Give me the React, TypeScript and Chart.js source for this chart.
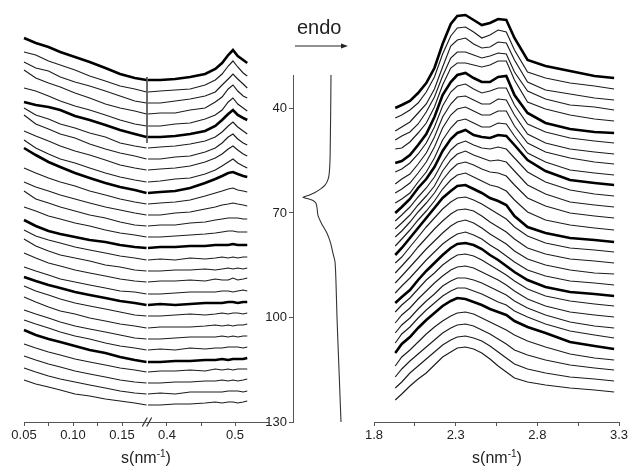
import React, { useEffect, useRef } from "react";
import { Chart, registerables } from "chart.js";
Chart.register(...registerables);

const FONT = 'Arial, "Liberation Sans", Helvetica, sans-serif';

// ---------------- data ----------------
// scattering vector grids (nm^-1)
const leftLowS = [0.05, 0.062, 0.075, 0.087, 0.102, 0.117, 0.133, 0.148, 0.163, 0.175];
const leftHighS = [0.372, 0.39, 0.412, 0.434, 0.456, 0.471, 0.481, 0.49, 0.497, 0.504, 0.512, 0.518];
const rightS = [1.93, 1.97, 2.02, 2.07, 2.12, 2.17, 2.22, 2.27, 2.31, 2.36, 2.41, 2.46, 2.51, 2.56, 2.61, 2.66, 2.74, 2.85, 3.0, 3.15, 3.27];

// stacked intensity level of each SAXS curve at the axis break (a.u.)
const leftLevel = [342, 330, 319, 308, 296, 285, 274, 263, 252, 240, 229, 218, 207, 196, 185, 174, 162, 151, 140, 128, 117, 106, 94, 83, 72, 60, 50, 39, 28, 17];

// SAXS low-s part, relative to the level at the break
const leftLowRel = [
  [42, 37, 33, 28, 23, 18, 12, 6, 2, 0],
  [40, 37, 31, 27, 22, 16, 11, 6, 3, 0],
  [41, 35, 32, 26, 21, 17, 12, 7, 2, 0],
  [44, 36, 31, 27, 21, 16, 10, 6, 3, 0],
  [38, 35, 30, 25, 20, 16, 11, 6, 2, 0],
  [35, 32, 30, 27, 21, 17, 12, 7, 3, 0],
  [40, 33, 29, 24, 20, 15, 11, 5, 2, 0],
  [44, 35, 30, 25, 21, 15, 10, 6, 3, 0],
  [39, 34, 29, 24, 19, 15, 10, 5, 2, 0],
  [42, 34, 28, 23, 19, 14, 9, 5, 2, 0],
  [45, 38, 31, 26, 20, 15, 10, 6, 3, 0],
  [36, 31, 26, 22, 18, 13, 9, 5, 2, 0],
  [33, 28, 24, 20, 16, 12, 8, 5, 2, 0],
  [35, 27, 23, 19, 15, 11, 8, 4, 1, 0],
  [30, 26, 21, 18, 14, 11, 7, 4, 2, 0],
  [28, 22, 17, 14, 11, 8, 6, 3, 1, 0],
  [30, 24, 20, 17, 13, 10, 7, 4, 2, 0],
  [32, 25, 20, 16, 13, 10, 6, 4, 1, 0],
  [29, 24, 19, 16, 12, 9, 6, 3, 1, 0],
  [27, 23, 19, 15, 12, 9, 6, 3, 2, 0],
  [28, 24, 20, 17, 13, 10, 7, 4, 2, 0],
  [30, 25, 21, 17, 13, 10, 7, 4, 1, 0],
  [31, 26, 21, 17, 14, 10, 7, 4, 2, 0],
  [29, 25, 21, 17, 13, 10, 7, 4, 1, 0],
  [30, 26, 22, 18, 14, 11, 7, 4, 2, 0],
  [32, 27, 23, 20, 16, 12, 9, 5, 2, 0],
  [28, 24, 20, 17, 13, 10, 7, 4, 2, 0],
  [27, 23, 19, 16, 12, 9, 6, 3, 1, 0],
  [26, 22, 18, 15, 12, 9, 6, 3, 1, 0],
  [25, 21, 18, 15, 11, 9, 6, 4, 2, 0],
];

// SAXS high-s part (long-period peak), relative to the level at the break
const leftHighRel = [
  [0, 0, 1, 3, 6, 11, 17, 25, 30, 24, 20, 17],
  [0, 1, 2, 3, 7, 12, 18, 26, 31, 25, 19, 16],
  [0, 0, 2, 4, 7, 11, 18, 24, 29, 24, 19, 15],
  [0, 1, 1, 4, 6, 12, 17, 25, 29, 23, 18, 16],
  [0, 0, 2, 3, 7, 11, 16, 24, 28, 22, 18, 15],
  [0, 0, 1, 3, 6, 11, 17, 23, 27, 22, 19, 17],
  [0, 1, 2, 4, 7, 11, 16, 22, 26, 21, 17, 14],
  [0, 0, 2, 3, 7, 11, 16, 22, 25, 20, 16, 14],
  [0, 1, 2, 4, 8, 12, 16, 21, 24, 20, 16, 14],
  [0, 1, 3, 4, 8, 12, 16, 20, 23, 19, 16, 14],
  [0, 1, 2, 5, 10, 14, 17, 20, 21, 19, 17, 16],
  [0, 1, 2, 4, 8, 11, 13, 15, 16, 14, 13, 12],
  [0, 0, 2, 3, 6, 8, 10, 11, 12, 11, 10, 9],
  [0, 1, 1, 3, 4, 6, 7, 8, 8, 8, 7, 7],
  [0, 0, 1, 2, 3, 4, 5, 6, 6, 5, 5, 5],
  [0, 1, 1, 2, 2, 3, 3, 3, 4, 3, 3, 3],
  [0, 1, 0, 2, 1, 2, 3, 2, 3, 2, 3, 3],
  [0, 0, 1, 1, 2, 1, 2, 3, 2, 3, 2, 3],
  [0, 1, 1, 2, 1, 3, 2, 2, 4, 2, 3, 4],
  [0, 0, 1, 2, 2, 2, 3, 3, 2, 3, 4, 3],
  [0, 1, 0, 1, 2, 2, 2, 3, 3, 2, 3, 3],
  [0, 0, 1, 2, 1, 2, 3, 2, 3, 3, 2, 3],
  [0, 1, 1, 1, 2, 3, 2, 3, 2, 3, 3, 4],
  [0, 0, 1, 2, 2, 2, 3, 2, 3, 2, 3, 3],
  [0, 1, 0, 2, 1, 2, 2, 3, 3, 3, 2, 3],
  [0, 0, 1, 1, 2, 2, 3, 2, 3, 3, 3, 4],
  [0, 1, 1, 2, 1, 3, 2, 3, 2, 3, 3, 3],
  [0, 0, 1, 1, 2, 2, 3, 2, 3, 2, 3, 4],
  [0, 1, 0, 2, 2, 2, 2, 3, 3, 3, 2, 3],
  [0, 0, 1, 1, 2, 3, 2, 3, 3, 2, 3, 4],
];

// WAXS: stacked level of each curve at its high-s end (a.u.)
const rightLevel = [344, 333, 322, 312, 301, 289, 279, 268, 258, 247, 237, 226, 215, 204, 192, 180, 170, 159, 148, 137, 126, 116, 105, 94, 84, 73, 62, 52, 41, 30];

// WAXS curves relative to their high-s end
const rightRel = [
  [-30, -27, -23, -15, -5, 10, 34, 54, 62, 63, 58, 53, 55, 59, 58, 40, 18, 12, 7, 2, 0],
  [-29, -26, -21, -14, -3, 12, 35, 53, 61, 62, 57, 51, 54, 59, 57, 39, 17, 11, 6, 3, 0],
  [-31, -27, -22, -13, -4, 11, 33, 54, 60, 62, 56, 52, 53, 58, 57, 40, 18, 10, 6, 2, 0],
  [-30, -26, -22, -14, -2, 13, 34, 52, 58, 58, 55, 52, 54, 57, 56, 38, 19, 11, 5, 3, 0],
  [-28, -27, -21, -12, -2, 14, 36, 53, 58, 58, 56, 54, 56, 60, 60, 41, 19, 12, 6, 2, 0],
  [-30, -28, -22, -12, -1, 16, 38, 51, 58, 60, 55, 51, 51, 56, 57, 38, 20, 10, 4, 1, 0],
  [-29, -26, -20, -11, 0, 16, 37, 51, 57, 59, 54, 50, 52, 55, 55, 38, 19, 11, 5, 2, 0],
  [-30, -25, -20, -10, 1, 17, 37, 50, 57, 58, 54, 50, 50, 55, 54, 39, 20, 11, 5, 2, 0],
  [-29, -25, -19, -9, 2, 17, 36, 49, 55, 57, 53, 49, 49, 53, 53, 38, 21, 12, 6, 2, 0],
  [-28, -24, -18, -7, 3, 17, 35, 47, 54, 56, 52, 48, 48, 52, 51, 39, 22, 13, 5, 2, 0],
  [-28, -22, -14, -3, 6, 18, 34, 46, 52, 55, 50, 48, 47, 50, 49, 40, 25, 14, 5, 2, 0],
  [-25, -19, -11, -1, 8, 19, 34, 46, 52, 55, 51, 48, 47, 49, 47, 38, 24, 14, 6, 2, 0],
  [-22, -16, -8, 2, 11, 21, 36, 47, 53, 56, 52, 49, 46, 47, 45, 36, 22, 13, 5, 2, 0],
  [-19, -13, -4, 6, 15, 25, 38, 48, 54, 56, 53, 49, 46, 45, 42, 33, 20, 12, 5, 2, 0],
  [-16, -9, 0, 10, 19, 29, 41, 50, 55, 57, 53, 49, 45, 43, 39, 30, 18, 10, 5, 2, 0],
  [-13, -6, 4, 14, 24, 34, 44, 51, 56, 57, 53, 49, 44, 41, 37, 26, 15, 9, 4, 2, 0],
  [-11, -5, 5, 15, 25, 34, 43, 50, 54, 55, 52, 48, 43, 38, 33, 25, 16, 9, 4, 2, 0],
  [-10, -3, 6, 16, 25, 34, 42, 49, 53, 54, 52, 47, 41, 36, 31, 24, 15, 9, 4, 2, 0],
  [-9, -2, 7, 16, 25, 33, 41, 48, 52, 54, 51, 46, 40, 35, 30, 23, 15, 9, 4, 1, 0],
  [-8, -1, 7, 16, 25, 33, 41, 47, 51, 53, 50, 46, 40, 35, 29, 23, 15, 9, 4, 2, 0],
  [-7, -1, 6, 16, 25, 33, 41, 48, 52, 53, 51, 47, 41, 36, 30, 24, 16, 9, 4, 2, 0],
  [-6, 1, 8, 17, 26, 33, 41, 47, 51, 52, 50, 46, 41, 36, 31, 25, 17, 10, 5, 2, 0],
  [-6, 2, 9, 18, 26, 34, 41, 47, 50, 51, 49, 45, 41, 37, 32, 26, 18, 11, 5, 2, 0],
  [-5, 3, 10, 19, 27, 34, 42, 47, 50, 50, 48, 45, 41, 37, 33, 27, 20, 13, 6, 2, 0],
  [-5, 4, 11, 20, 28, 35, 42, 47, 50, 50, 47, 44, 40, 36, 33, 27, 21, 14, 7, 3, 0],
  [-4, 5, 12, 21, 29, 36, 43, 48, 51, 50, 47, 44, 40, 37, 34, 28, 22, 16, 7, 3, 0],
  [-6, 3, 10, 18, 26, 33, 39, 44, 47, 48, 46, 42, 38, 34, 30, 25, 19, 13, 6, 2, 0],
  [-7, 1, 9, 16, 23, 30, 37, 42, 45, 46, 44, 40, 36, 31, 26, 20, 15, 10, 5, 2, 0],
  [-7, -1, 8, 15, 22, 29, 36, 41, 44, 45, 43, 40, 35, 29, 23, 17, 12, 8, 4, 2, 0],
  [-8, -2, 6, 13, 19, 27, 35, 40, 44, 45, 43, 39, 33, 26, 20, 14, 10, 7, 4, 2, 0],
];

// curves drawn bold
const thickCurves = [0, 5, 10, 15, 20, 25];

// short vertical trace at the axis break
const breakLineS = [0.1755, 0.1755];
const breakLineI = [345, 279];

// DSC trace: temperature (°C) and heat flow (a.u.)
const dscTemp = [30.4, 40, 50, 55, 59.2, 60.8, 62.0, 63.0, 64.1, 64.9, 65.5, 66.0, 66.4, 67.2, 68.5, 70.7, 73.0, 75.8, 78.5, 81.6, 84, 90, 100, 115, 130];
const dscFlow = [38, 37.7, 37.3, 37, 36, 34.5, 32, 28, 22, 16, 10, 16, 20, 23, 24, 25, 28.5, 34, 37.5, 40, 42, 43, 44, 46, 48];

// ticks
const leftLowTicks = [0.05, 0.075, 0.1, 0.125, 0.15];
const leftLowLabels = ["0.05", "", "0.10", "", "0.15"];
const leftHighTicks = [0.4, 0.45, 0.5];
const leftHighLabels = ["0.4", "", "0.5"];
const rightTicks = [1.8, 2.05, 2.3, 2.55, 2.8, 3.05, 3.3];
const rightLabels = ["1.8", "", "2.3", "", "2.8", "", "3.3"];
const tempTicks = [40, 70, 100, 130];
const tempLabels = ["40", "70", "100", "130"];

// ---------------- helpers ----------------
const AXIS_COLOR = "#555";
const LABEL_COLOR = "#222";

function stacked(xs: number[], level: number[], rel: number[][]) {
  return level.map((lv, i) => {
    const thick = thickCurves.includes(i);
    return {
      data: xs.map((x, j) => ({ x, y: lv + rel[i][j] })),
      borderColor: thick ? "#000" : "#1c1c1c",
      borderWidth: thick ? 2.6 : 1.15,
      pointRadius: 0,
      tension: 0,
      fill: false,
      clip: false as any,
    };
  });
}

function xAxis(min: number, max: number, ticks: number[], labels: string[]) {
  return {
    type: "linear" as const,
    min,
    max,
    afterBuildTicks: (axis: any) => {
      axis.ticks = ticks.map((v) => ({ value: v }));
    },
    afterFit: (axis: any) => {
      axis.height = 22;
      axis.paddingLeft = 0;
      axis.paddingRight = 0;
    },
    ticks: {
      autoSkip: false,
      maxRotation: 0,
      padding: 2,
      color: LABEL_COLOR,
      font: { size: 13, family: FONT },
      callback: (_v: any, i: number) => labels[i] ?? "",
    },
    grid: { display: true, drawOnChartArea: false, drawTicks: true, tickLength: 4, color: AXIS_COLOR, lineWidth: 1 },
    border: { display: true, color: AXIS_COLOR, width: 1 },
  };
}

const hiddenY = { type: "linear" as const, display: false, min: 0, max: 412 };

function baseOptions(padding: any) {
  return {
    responsive: false,
    animation: false as const,
    devicePixelRatio: 1,
    events: [] as any[],
    layout: { padding },
    plugins: { legend: { display: false }, tooltip: { enabled: false } },
  };
}

const breakMarks = {
  id: "breakMarks",
  afterDraw(chart: any) {
    const { ctx, chartArea } = chart;
    const x = chartArea.left;
    const y = chartArea.bottom;
    ctx.save();
    ctx.strokeStyle = "#333";
    ctx.lineWidth = 1.2;
    for (const dx of [-2.2, 2.2]) {
      ctx.beginPath();
      ctx.moveTo(x + dx - 2.5, y + 4.5);
      ctx.lineTo(x + dx + 2.5, y - 4.5);
      ctx.stroke();
    }
    ctx.restore();
  },
};

function leftLowConfig(): any {
  const ds: any[] = stacked(leftLowS, leftLevel, leftLowRel);
  ds.push({
    data: breakLineS.map((x, i) => ({ x, y: breakLineI[i] })),
    borderColor: "#444",
    borderWidth: 0.8,
    pointRadius: 0,
    clip: false,
  });
  return {
    type: "line",
    data: { datasets: ds },
    options: {
      ...baseOptions({ left: 24, right: 13, top: 10, bottom: 22 }),
      scales: { x: xAxis(0.05, 0.1755, leftLowTicks, leftLowLabels), y: hiddenY },
    },
  };
}

function leftHighConfig(): any {
  return {
    type: "line",
    data: { datasets: stacked(leftHighS, leftLevel, leftHighRel) },
    options: {
      ...baseOptions({ left: 17, right: 22, top: 10, bottom: 22 }),
      scales: { x: xAxis(0.3706, 0.5485, leftHighTicks, leftHighLabels), y: hiddenY },
    },
    plugins: [breakMarks],
  };
}

function rightConfig(): any {
  return {
    type: "line",
    data: { datasets: stacked(rightS, rightLevel, rightRel) },
    options: {
      ...baseOptions({ left: 19, right: 10, top: 10, bottom: 22 }),
      scales: { x: xAxis(1.8, 3.3, rightTicks, rightLabels), y: hiddenY },
    },
  };
}

function dscConfig(): any {
  return {
    type: "line",
    data: {
      datasets: [
        {
          data: dscTemp.map((t, i) => ({ x: dscFlow[i], y: t })),
          borderColor: "#333",
          borderWidth: 1.1,
          pointRadius: 0,
          tension: 0.25,
          fill: false,
        },
      ],
    },
    options: {
      ...baseOptions({ left: 23, right: 20, top: 75, bottom: 44 }),
      scales: {
        x: { type: "linear", display: false, min: 0, max: 67 },
        y: {
          type: "linear",
          position: "left",
          reverse: true,
          min: 30.4,
          max: 130,
          afterBuildTicks: (axis: any) => {
            axis.ticks = tempTicks.map((v) => ({ value: v }));
          },
          afterFit: (axis: any) => {
            axis.width = 40;
            axis.paddingTop = 0;
            axis.paddingBottom = 0;
          },
          ticks: {
            autoSkip: false,
            padding: 2,
            color: LABEL_COLOR,
            font: { size: 13, family: FONT },
            callback: (_v: any, i: number) => tempLabels[i] ?? "",
          },
          grid: { display: true, drawOnChartArea: false, drawTicks: true, tickLength: 4, color: AXIS_COLOR, lineWidth: 1 },
          border: { display: true, color: AXIS_COLOR, width: 1 },
        },
      },
    },
  };
}

function ChartCanvas(props: { left: number; top: number; width: number; height: number; make: () => any }) {
  const ref = useRef<HTMLCanvasElement>(null);
  useEffect(() => {
    const chart = new Chart(ref.current as HTMLCanvasElement, props.make());
    return () => chart.destroy();
  }, []);
  return (
    <canvas
      ref={ref}
      width={props.width}
      height={props.height}
      style={{ position: "absolute", left: props.left, top: props.top, width: props.width, height: props.height }}
    />
  );
}

function AxisTitle({ centerX, top }: { centerX: number; top: number }) {
  return (
    <div
      style={{
        position: "absolute",
        left: centerX - 60,
        width: 120,
        top,
        textAlign: "center",
        fontFamily: FONT,
        fontSize: 16,
        lineHeight: "16px",
        color: LABEL_COLOR,
        whiteSpace: "nowrap",
      }}
    >
      s(nm<sup style={{ fontSize: 10, lineHeight: "10px", verticalAlign: "6px" }}>-1</sup>)
    </div>
  );
}

export default function App() {
  return (
    <div style={{ position: "fixed", left: 0, top: 0, width: 629, height: 466, background: "#fff", overflow: "hidden" }}>
      <ChartCanvas left={0} top={0} width={160} height={466} make={leftLowConfig} />
      <ChartCanvas left={130} top={0} width={160} height={466} make={leftHighConfig} />
      <ChartCanvas left={230} top={0} width={150} height={466} make={dscConfig} />
      <ChartCanvas left={355} top={0} width={274} height={466} make={rightConfig} />
      <AxisTitle centerX={146} top={449} />
      <AxisTitle centerX={497} top={449} />
      <div
        style={{
          position: "absolute",
          left: 297,
          top: 17,
          fontFamily: FONT,
          fontSize: 20,
          lineHeight: "20px",
          color: "#222",
        }}
      >
        endo
      </div>
      <svg style={{ position: "absolute", left: 290, top: 40 }} width={64} height={12}>
        <line x1={5} y1={6} x2={53} y2={6} stroke="#222" strokeWidth={1} />
        <polygon points="58,6 51,3.5 51,8.5" fill="#222" />
      </svg>
    </div>
  );
}
